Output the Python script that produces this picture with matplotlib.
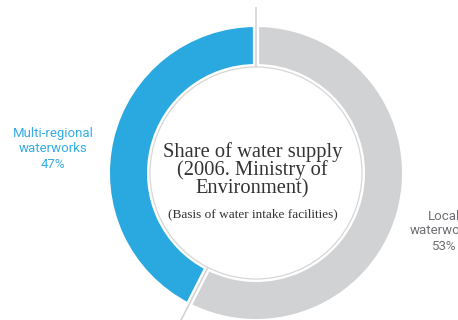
import numpy as np
import matplotlib
matplotlib.use("Agg")
import matplotlib.pyplot as plt

# ---- data ----
categories = ["Multi-regional\nwaterworks", "Local\nwaterworks"]
label_pct = [47, 53]            # percentages printed on the chart
arc_share = [42.5, 57.5]        # arc extent as drawn in the reference
colors = ["#29a9e0", "#d1d2d4"]
label_colors = ["#33ade3", "#6d6e71"]
title_lines = ["Share of water supply", "(2006. Ministry of", "Environment)"]
subtitle = "(Basis of water intake facilities)"

W, H = 458, 320
fig = plt.figure(figsize=(W / 100, H / 100), dpi=100)
ax = fig.add_axes([0, 0, 1, 1])

cx, cy = 256, H - 173
R_out, ring_w = 146, 37
R_in = R_out - ring_w

ax.pie(arc_share, colors=colors, startangle=90, counterclock=True,
       center=(cx, cy), radius=R_out, frame=True,
       wedgeprops=dict(width=ring_w, edgecolor="none"))
ax.set_xlim(0, W)
ax.set_ylim(0, H)
ax.set_aspect("equal")
ax.axis("off")

# inner thin circle
circ = plt.Circle((cx, cy), R_in - 3, fill=False, edgecolor="#d6d6d6", lw=0.9)
ax.add_patch(circ)

# separators
bounds = 90 + 360 * np.cumsum([0] + arc_share[:-1]) / 100.0
for a in bounds:
    t = np.deg2rad(a)
    ax.plot([cx + (R_in - 2) * np.cos(t), cx + (R_out + 3) * np.cos(t)],
            [cy + (R_in - 2) * np.sin(t), cy + (R_out + 3) * np.sin(t)],
            color="white", lw=4.5, solid_capstyle="butt", zorder=3)
    ax.plot([cx + (R_in - 3) * np.cos(t), cx + (R_out + 20) * np.cos(t)],
            [cy + (R_in - 3) * np.sin(t), cy + (R_out + 20) * np.sin(t)],
            color="#d4d4d4", lw=1.2, solid_capstyle="butt", zorder=4)

# category labels
label_pos = [(53, H - 149), (444, H - 231)]
for cat, pct, (lx, ly), c in zip(categories, label_pct, label_pos, label_colors):
    ax.text(lx, ly, f"{cat}\n{pct}%", ha="center", va="center", color=c,
            fontsize=9.5, family="Roboto", linespacing=1.2)

# center title
baselines = [157, 175, 193]
for line, b in zip(title_lines, baselines):
    ax.text(252.5, H - b, line, ha="center", va="baseline", color="#333333",
            fontsize=14.8, family="Liberation Serif")
ax.text(252.5, H - 217, subtitle, ha="center", va="baseline", color="#333333",
        fontsize=9.5, family="Liberation Serif")

fig.savefig("out.png", dpi=100)
